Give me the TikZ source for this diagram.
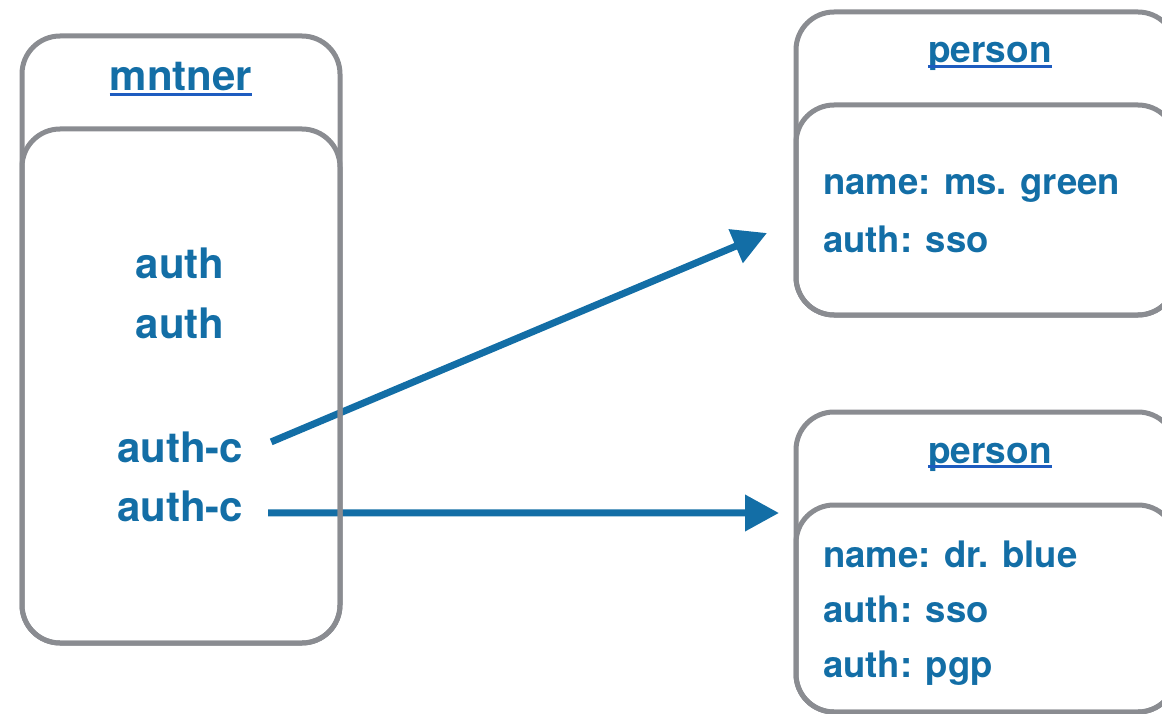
\documentclass[tikz,border=0pt]{standalone}
\usepackage{fontspec}
\setmainfont{TeX Gyre Heros}
\usetikzlibrary{arrows.meta,backgrounds,positioning}
\definecolor{objBlue}{RGB}{19,110,166}
\definecolor{linkBlue}{RGB}{30,92,192}
\definecolor{frameGray}{RGB}{138,140,145}

\begin{document}
\begin{tikzpicture}[x=1pt, y=-1pt,
    objFrame/.style={draw=frameGray, line width=5pt, rounded corners=38pt, anchor=north west, inner sep=0pt, outer sep=0pt},
    objTitle/.style={text=objBlue, font=\bfseries\fontsize{37}{44}\selectfont, inner sep=0pt, anchor=base},
    objAttr/.style={text=objBlue, font=\bfseries\fontsize{36.5}{44}\selectfont, inner sep=0pt, anchor=base west},
    mntAttr/.style={text=objBlue, font=\bfseries\fontsize{42}{50}\selectfont, inner sep=0pt, anchor=base},
    titleLine/.style={draw=linkBlue, line width=2.5pt},
    linkArrow/.style={-{Triangle[length=34pt, width=35pt]}, draw=objBlue, line width=7pt}]

    \useasboundingbox (0,0) rectangle (1162,714);

    % maintainer object
    \node[objFrame, minimum width=318pt, minimum height=607pt] (mntFrame) at (22,36) {};
    \node[objFrame, minimum width=318pt, minimum height=514pt] (mntBody) at (22,129) {};
    \node[mntAttr] (mntName) at (181,91) {mntner};
    \node[mntAttr] (mntAuth1) at (180,278) {auth};
    \node[mntAttr] (mntAuth2) at (180,338) {auth};
    \node[mntAttr] (mntAuthC1) at (180,462) {auth-c};
    \node[mntAttr] (mntAuthC2) at (180,521) {auth-c};

    % person objects
    \node[objFrame, minimum width=380pt, minimum height=303pt] (grnFrame) at (796,12) {};
    \node[objFrame, minimum width=380pt, minimum height=210pt] (grnBody) at (796,105) {};
    \node[objTitle] (grnName) at (990,63) {person};
    \node[objAttr] (grnAttr1) at (823,195) {name: ms. green};
    \node[objAttr] (grnAttr2) at (823,252) {auth: sso};

    \node[objFrame, minimum width=380pt, minimum height=300pt] (bluFrame) at (796,412) {};
    \node[objFrame, minimum width=380pt, minimum height=207pt] (bluBody) at (796,505) {};
    \node[objTitle] (bluName) at (990,463) {person};
    \node[objAttr] (bluAttr1) at (823,567) {name: dr. blue};
    \node[objAttr] (bluAttr2) at (823,622) {auth: sso};
    \node[objAttr] (bluAttr3) at (823,677) {auth: pgp};

    \foreach \t in {mntName, grnName, bluName}
        \draw[titleLine] ([yshift=-3.5pt]\t.base west) -- ([yshift=-3.5pt]\t.base east);

    % auth-c references, kept under the frames
    \begin{pgfonlayer}{background}
        \draw[linkArrow] ([shift={(28,-5)}]mntAuthC1.east) -- ([shift={(-29,69.5)}]grnFrame.west);
        \draw[linkArrow] ([shift={(25,7)}]mntAuthC2.east) -- ([shift={(-17,-49)}]bluFrame.west);
    \end{pgfonlayer}
\end{tikzpicture}
\end{document}
